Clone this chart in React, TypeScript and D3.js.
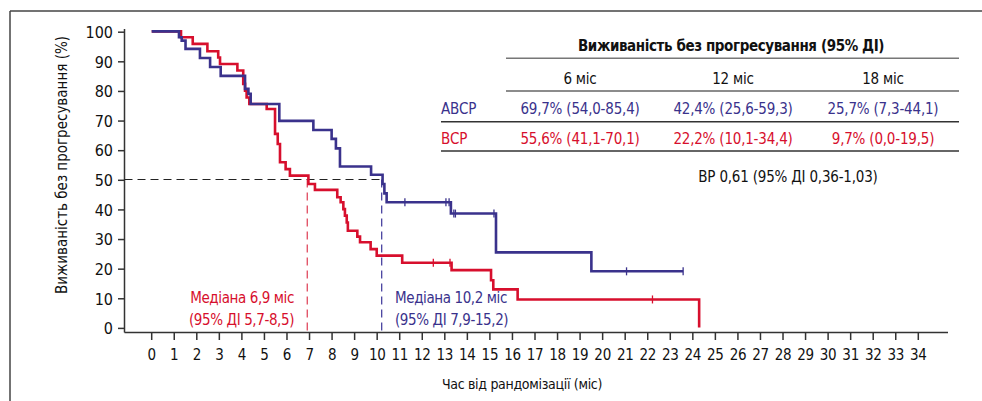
import React from "react";
import * as d3 from "d3";

// ---- data ----
const xTicks = d3.range(0, 35);
const yTicks = [0, 10, 20, 30, 40, 50, 60, 70, 80, 90, 100];

// ABCP (blue) step times and survival after each step
const abcpTimes = [0, 1.21, 1.33, 1.5, 2.14, 2.59, 3.06, 4.14, 4.29, 4.39, 5.66, 7.17, 7.98, 8.17, 8.35, 9.73, 10.24, 10.32, 10.42, 13.27, 15.27, 19.5, 23.57];
const abcpSurv = [100, 98.0, 96.9, 94.1, 91.0, 88.0, 85.0, 80.6, 78.9, 75.5, 69.8, 66.7, 63.7, 60.5, 54.4, 51.6, 48.5, 45.3, 42.3, 38.5, 25.4, 19.0, 19.0];
const abcpCensorT = [11.23, 13.05, 13.19, 13.4, 13.47, 15.18, 21.06, 23.57];

// BCP (red)
const bcpTimes = [0, 1.3, 1.82, 2.47, 2.95, 3.03, 3.8, 4.06, 4.14, 4.21, 4.33, 5.1, 5.47, 5.59, 5.69, 5.94, 6.13, 6.95, 7.24, 8.23, 8.38, 8.5, 8.57, 8.65, 8.7, 9.12, 9.24, 9.71, 9.98, 11.11, 13.3, 15.05, 15.15, 16.23, 24.28, 24.28];
const bcpSurv = [100, 98.0, 95.8, 93.3, 91.2, 89.0, 86.8, 82.3, 80.0, 77.7, 75.5, 73.8, 65.4, 62.0, 55.8, 53.5, 51.3, 48.5, 46.5, 44.0, 42.3, 40.0, 37.8, 35.5, 32.7, 30.7, 28.8, 26.5, 24.3, 21.9, 19.4, 16.0, 12.9, 9.5, 9.5, 0];
const bcpCensorT = [12.49, 13.23, 22.21];

const medianABCP = 10.2;
const medianBCP = 6.9;

const tableTitle = "Виживаність без прогресування (95% ДІ)";
const tableCols = ["6 міс", "12 міс", "18 міс"];
const rowNames = ["АВСР", "ВСР"];
const rowABCP = ["69,7% (54,0-85,4)", "42,4% (25,6-59,3)", "25,7% (7,3-44,1)"];
const rowBCP = ["55,6% (41,1-70,1)", "22,2% (10,1-34,4)", "9,7% (0,0-19,5)"];
const hrText = "ВР 0,61 (95% ДІ 0,36-1,03)";

const BLUE = "#3a328c";
const RED = "#d70f2d";
const AX = "#333";
const FONT = "'DejaVu Sans Condensed', 'DejaVu Sans', sans-serif";

export default function App() {
  const W = 982, H = 401;
  const x = d3.scaleLinear().domain([0, 34]).range([151.7, 918.3]);
  const y = d3.scaleLinear().domain([0, 100]).range([327.6, 31.4]);
  const line = d3.line<[number, number]>().x(d => x(d[0])).y(d => y(d[1])).curve(d3.curveStepAfter);

  const abcpPts = abcpTimes.map((t, i) => [t, abcpSurv[i]] as [number, number]);
  const bcpPts = bcpTimes.map((t, i) => [t, bcpSurv[i]] as [number, number]);

  const survAt = (times: number[], surv: number[], t: number) => {
    let s = surv[0];
    for (let i = 0; i < times.length; i++) if (times[i] <= t) s = surv[i];
    return s;
  };

  const colX = [580, 733, 883];
  const axisY = 332.5;
  const axisX = 124.5;
  const TS = 15; // table font size
  const LS = -0.2;

  return (
    <svg width={W} height={H} style={{ position: "absolute", left: 0, top: 0, background: "#fff" }} fontFamily={FONT}>
      <rect x={0} y={0} width={W} height={H} fill="#fff" />
      {/* frame */}
      <line x1={10} y1={11} x2={W} y2={11} stroke="#444" strokeWidth={1.5} />
      <line x1={10} y1={11} x2={10} y2={H} stroke="#444" strokeWidth={1.5} />

      {/* axes */}
      <line x1={axisX} y1={29} x2={axisX} y2={axisY} stroke={AX} strokeWidth={1.5} />
      <line x1={axisX} y1={axisY} x2={948} y2={axisY} stroke={AX} strokeWidth={1.5} />
      {yTicks.map(v => (
        <g key={"y" + v}>
          <line x1={118} x2={axisX} y1={y(v) + 0.8} y2={y(v) + 0.8} stroke={AX} strokeWidth={1.5} />
          <text x={113} y={y(v) + 0.8} dy="0.36em" textAnchor="end" fontSize={16} fill="#111">{v}</text>
        </g>
      ))}
      {xTicks.map(v => (
        <g key={"x" + v}>
          <line x1={x(v)} x2={x(v)} y1={axisY} y2={340} stroke={AX} strokeWidth={1.5} />
          <text x={x(v)} y={360} textAnchor="middle" fontSize={15} letterSpacing={-0.3} fill="#111">{v}</text>
        </g>
      ))}
      <text transform={`translate(67,165) rotate(-90)`} textAnchor="middle" fontSize={15} fill="#111">
        Виживаність без прогресування (%)
      </text>
      <text x={522} y={389} textAnchor="middle" fontSize={14} letterSpacing={-0.3} fill="#111">Час від рандомізації (міс)</text>

      {/* median lines */}
      <line x1={axisX} x2={x(medianABCP)} y1={y(50)} y2={y(50)} stroke="#222" strokeWidth={1} strokeDasharray="8,5" />
      <line x1={x(medianBCP)} x2={x(medianBCP)} y1={y(50)} y2={axisY} stroke="#e04a60" strokeWidth={1.3} strokeDasharray="8,5" />
      <line x1={x(medianABCP)} x2={x(medianABCP)} y1={y(50)} y2={axisY} stroke="#4a44a0" strokeWidth={1.3} strokeDasharray="8,5" />

      {/* curves */}
      <path d={line(bcpPts) || ""} fill="none" stroke={RED} strokeWidth={2.6} />
      <path d={line(abcpPts) || ""} fill="none" stroke={BLUE} strokeWidth={2.6} />
      {abcpCensorT.map((t, i) => {
        const s = survAt(abcpTimes, abcpSurv, t);
        return <line key={"ca" + i} x1={x(t)} x2={x(t)} y1={y(s) - 4} y2={y(s) + 4} stroke={BLUE} strokeWidth={1.3} />;
      })}
      {bcpCensorT.map((t, i) => {
        const s = survAt(bcpTimes, bcpSurv, t);
        return <line key={"cb" + i} x1={x(t)} x2={x(t)} y1={y(s) - 4} y2={y(s) + 4} stroke={RED} strokeWidth={1.3} />;
      })}

      {/* median annotations */}
      <text x={294} y={302.5} textAnchor="end" fontSize={15} letterSpacing={-0.4} fill={RED}>Медіана 6,9 міс</text>
      <text x={294} y={325} textAnchor="end" fontSize={15} letterSpacing={-0.4} fill={RED}>(95% ДІ 5,7-8,5)</text>
      <text x={395} y={302.5} textAnchor="start" fontSize={15} letterSpacing={-0.4} fill={BLUE}>Медіана 10,2 міс</text>
      <text x={395} y={325} textAnchor="start" fontSize={15} letterSpacing={-0.4} fill={BLUE}>(95% ДІ 7,9-15,2)</text>

      {/* table */}
      <text x={731} y={51} textAnchor="middle" fontSize={15} letterSpacing={-0.4} fontWeight="bold" fill="#111">{tableTitle}</text>
      <line x1={506} x2={959} y1={58.3} y2={58.3} stroke="#777" strokeWidth={1.5} />
      {tableCols.map((c, i) => (
        <text key={"c" + i} x={colX[i]} y={84} textAnchor="middle" fontSize={TS} letterSpacing={LS} fill="#111">{c}</text>
      ))}
      <line x1={506} x2={959} y1={91} y2={91} stroke="#666" strokeWidth={1.5} />
      <text x={441} y={114} fontSize={TS} letterSpacing={LS} fill={BLUE}>{rowNames[0]}</text>
      {rowABCP.map((c, i) => (
        <text key={"a" + i} x={colX[i]} y={114} textAnchor="middle" fontSize={TS} letterSpacing={LS} fill={BLUE}>{c}</text>
      ))}
      <line x1={441} x2={959} y1={121.7} y2={121.7} stroke="#333" strokeWidth={1.5} />
      <text x={441} y={144} fontSize={TS} letterSpacing={LS} fill={RED}>{rowNames[1]}</text>
      {rowBCP.map((c, i) => (
        <text key={"b" + i} x={colX[i]} y={144} textAnchor="middle" fontSize={TS} letterSpacing={LS} fill={RED}>{c}</text>
      ))}
      <line x1={441} x2={959} y1={151} y2={151} stroke="#333" strokeWidth={1.5} />
      <text x={788} y={182} textAnchor="middle" fontSize={TS} letterSpacing={LS} fill="#111">{hrText}</text>
    </svg>
  );
}
